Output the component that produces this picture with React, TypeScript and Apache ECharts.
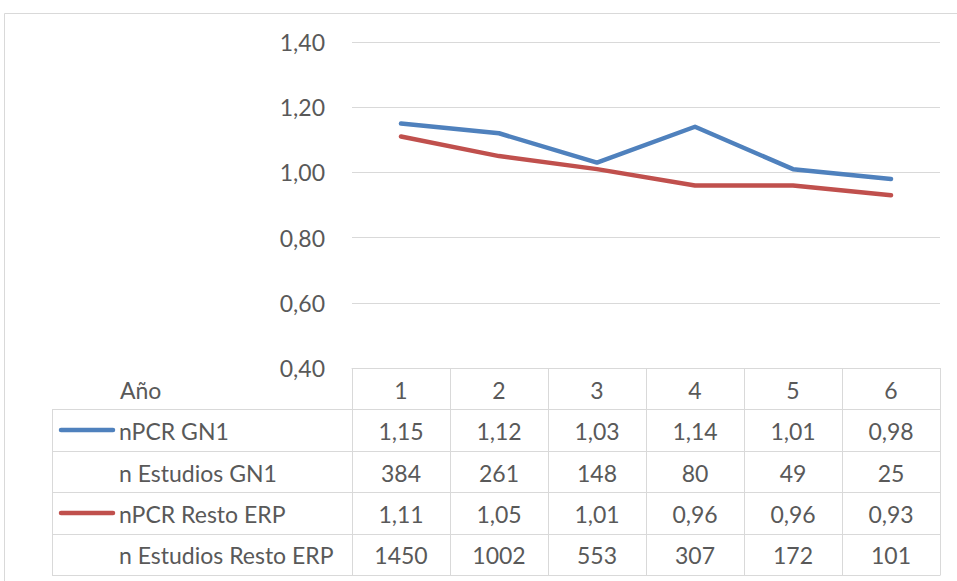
import React, { useEffect, useRef } from "react";
import * as echarts from "echarts";

const years = ["1", "2", "3", "4", "5", "6"];
const npcrGN1 = [1.15, 1.12, 1.03, 1.14, 1.01, 0.98];
const estudiosGN1 = [384, 261, 148, 80, 49, 25];
const npcrResto = [1.11, 1.05, 1.01, 0.96, 0.96, 0.93];
const estudiosResto = [1450, 1002, 553, 307, 172, 101];
const rowLabels = ["nPCR GN1", "n Estudios GN1", "nPCR Resto ERP", "n Estudios Resto ERP"];
const headerLabel = "Año";

const BLUE = "#4f81bd";
const RED = "#c0504d";
const GRIDC = "#d9d9d9";
const TXT = "#595959";
const FONT = "Lato, 'Open Sans', sans-serif";
const FS = 23;

const W = 957;
const H = 581;
const GL = 352;
const GR = 940;
const GT = 42;
const GB = 368;
const TL = 52;
const ROW_H = 41.4;

const fmt = (v: number) => v.toFixed(2).replace(".", ",");

export default function App() {
  const ref = useRef<HTMLDivElement>(null);
  useEffect(() => {
    if (!ref.current) return;
    const chart = echarts.init(ref.current, undefined, { renderer: "svg" });
    const colW = (GR - GL) / years.length;
    const rows: string[][] = [
      npcrGN1.map(fmt),
      estudiosGN1.map(String),
      npcrResto.map(fmt),
      estudiosResto.map(String),
    ];
    const graphics: any[] = [];
    const ls = { stroke: GRIDC, lineWidth: 1 };
    graphics.push({
      type: "rect",
      shape: { x: 4.5, y: 13.5, width: W, height: H },
      style: { fill: "none", stroke: GRIDC, lineWidth: 1 },
      silent: true,
    });
    for (let k = 1; k <= rows.length + 1; k++) {
      const y = Math.round(GB + ROW_H * k) + 0.5;
      graphics.push({ type: "line", shape: { x1: TL, y1: y, x2: GR, y2: y }, style: ls, silent: true });
    }
    const tableBottom = Math.round(GB + ROW_H * (rows.length + 1)) + 0.5;
    graphics.push({
      type: "line",
      shape: { x1: TL + 0.5, y1: Math.round(GB + ROW_H) + 0.5, x2: TL + 0.5, y2: tableBottom },
      style: ls,
      silent: true,
    });
    for (let i = 0; i <= years.length; i++) {
      const x = Math.round(GL + colW * i) + 0.5;
      graphics.push({ type: "line", shape: { x1: x, y1: GB, x2: x, y2: tableBottom }, style: ls, silent: true });
    }
    graphics.push({
      type: "text",
      style: { text: headerLabel, x: 120, y: GB + ROW_H / 2 + 1, font: `${FS}px ${FONT}`, fill: TXT, verticalAlign: "middle" },
      silent: true,
    });
    rows.forEach((r, k) => {
      const cy = GB + ROW_H * (k + 1) + ROW_H / 2 + 1;
      graphics.push({
        type: "text",
        style: { text: rowLabels[k], x: 119, y: cy, font: `${FS}px ${FONT}`, fill: TXT, verticalAlign: "middle" },
        silent: true,
      });
      r.forEach((v, i) => {
        graphics.push({
          type: "text",
          style: {
            text: v,
            x: GL + colW * (i + 0.5),
            y: cy,
            font: `${FS}px ${FONT}`,
            fill: TXT,
            align: "center",
            verticalAlign: "middle",
          },
          silent: true,
        });
      });
    });
    [
      { c: BLUE, k: 0 },
      { c: RED, k: 2 },
    ].forEach(({ c, k }) => {
      const cy = GB + ROW_H * (k + 1) + ROW_H / 2;
      graphics.push({
        type: "line",
        shape: { x1: 61, y1: cy, x2: 113, y2: cy },
        style: { stroke: c, lineWidth: 4.5, lineCap: "round" },
        silent: true,
      });
    });

    chart.setOption({
      animation: false,
      backgroundColor: "#ffffff",
      grid: { left: GL, right: W - GR, top: GT, bottom: H - GB, containLabel: false },
      xAxis: {
        type: "category",
        data: years,
        boundaryGap: true,
        axisLine: { show: true, lineStyle: { color: GRIDC, width: 1 } },
        axisTick: { show: false },
        axisLabel: { color: TXT, fontSize: FS, fontFamily: FONT, margin: 10 },
        splitLine: { show: false },
      },
      yAxis: {
        type: "value",
        min: 0.4,
        max: 1.4,
        interval: 0.2,
        axisLine: { show: false },
        axisTick: { show: false },
        axisLabel: { color: TXT, fontSize: FS, fontFamily: FONT, margin: 27, formatter: (v: number) => fmt(v) },
        splitLine: { show: true, lineStyle: { color: GRIDC, width: 1 } },
      },
      series: [
        {
          name: rowLabels[0],
          type: "line",
          data: npcrGN1,
          symbol: "none",
          lineStyle: { color: BLUE, width: 4.5, cap: "round", join: "round" },
          itemStyle: { color: BLUE },
        },
        {
          name: rowLabels[2],
          type: "line",
          data: npcrResto,
          symbol: "none",
          lineStyle: { color: RED, width: 4.5, cap: "round", join: "round" },
          itemStyle: { color: RED },
        },
      ],
      graphic: graphics,
    });
    return () => chart.dispose();
  }, []);
  return (
    <div
      ref={ref}
      style={{ position: "absolute", left: 0, top: 0, width: W, height: H, background: "#fff" }}
    />
  );
}
